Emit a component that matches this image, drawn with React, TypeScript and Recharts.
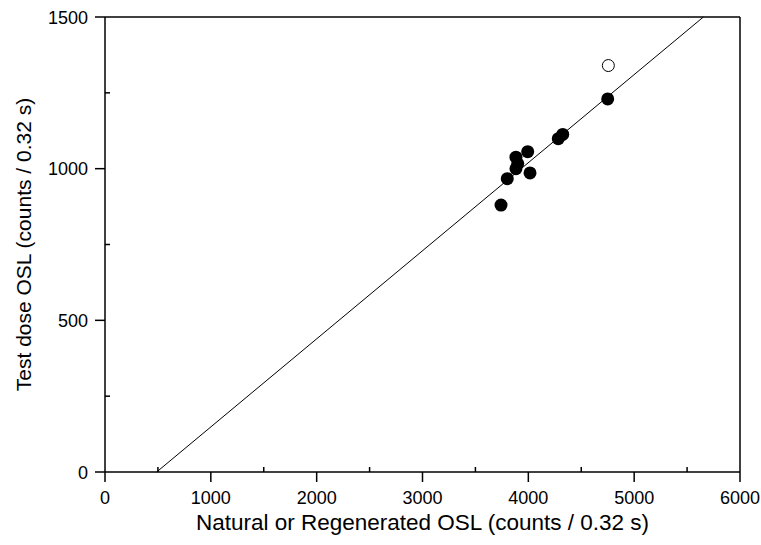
import React from 'react';
import { ScatterChart, Scatter, XAxis, YAxis, ReferenceLine } from 'recharts';

// Filled circles (natural / regenerated)
const filledX = [3742, 3801, 3883, 3900, 3883, 3994, 4016, 4283, 4325, 4750];
const filledY = [880, 967, 1038, 1017, 1000, 1056, 986, 1099, 1113, 1230];
// Open circle (recycled point)
const openX = [4756];
const openY = [1340];
// Fitted line end points
const fitX = [488, 5654];
const fitY = [0, 1500];

const xTicks = [0, 500, 1000, 1500, 2000, 2500, 3000, 3500, 4000, 4500, 5000, 5500, 6000];
const yTicks = [0, 250, 500, 750, 1000, 1250, 1500];
const xMajorStep = 1000;
const yMajorStep = 500;

const xTitle = 'Natural or Regenerated OSL (counts / 0.32 s)';
const yTitle = 'Test dose OSL (counts / 0.32 s)';

const filledData = filledX.map((x, i) => ({ x, y: filledY[i] }));
const openData = openX.map((x, i) => ({ x, y: openY[i] }));

const FONT = '"Liberation Sans", Arial, Helvetica, sans-serif';
const AX = 1.5;

const XTick = (props: any) => {
  const { x, y, payload } = props;
  const v = payload.value;
  const major = v % xMajorStep === 0;
  return (
    <g>
      {major ? (
        <line x1={x} x2={x} y1={y} y2={y + 10} stroke="#000" strokeWidth={AX} />
      ) : (
        <line x1={x} x2={x} y1={y - 5} y2={y} stroke="#000" strokeWidth={AX} />
      )}
      {major && (
        <text x={x} y={y + 31.5} textAnchor="middle" fontSize={18} fontFamily={FONT} fill="#000">
          {v}
        </text>
      )}
    </g>
  );
};

const YTick = (props: any) => {
  const { x, y, payload } = props;
  const v = payload.value;
  const major = v % yMajorStep === 0;
  return (
    <g>
      {major ? (
        <line x1={x - 10} x2={x} y1={y} y2={y} stroke="#000" strokeWidth={AX} />
      ) : (
        <line x1={x} x2={x + 5} y1={y} y2={y} stroke="#000" strokeWidth={AX} />
      )}
      {major && (
        <text x={x - 17} y={y + 6.5} textAnchor="end" fontSize={18} fontFamily={FONT} fill="#000">
          {v}
        </text>
      )}
    </g>
  );
};

const YTitle = (props: any) => {
  const vb = props.viewBox || { x: 0, y: 17, width: 105, height: 455 };
  const cx = vb.x + 23;
  const cy = vb.y + vb.height / 2;
  return (
    <text
      x={cx}
      y={cy}
      transform={`rotate(-90 ${cx} ${cy})`}
      textAnchor="middle"
      dominantBaseline="central"
      fontSize={21}
      fontFamily={FONT}
      fill="#000"
    >
      {yTitle}
    </text>
  );
};

const XTitle = (props: any) => {
  const vb = props.viewBox || { x: 105, y: 472, width: 635, height: 73 };
  const cx = vb.x + vb.width / 2;
  const cy = vb.y + 50;
  return (
    <text x={cx} y={cy} textAnchor="middle" dominantBaseline="central" fontSize={22.5} fontFamily={FONT} fill="#000">
      {xTitle}
    </text>
  );
};

const FilledDot = (p: any) => <circle cx={p.cx} cy={p.cy} r={6.5} fill="#000" />;
const OpenDot = (p: any) => <circle cx={p.cx} cy={p.cy} r={6} fill="#fff" stroke="#000" strokeWidth={1} />;

export default function App() {
  return (
    <div style={{ position: 'absolute', left: 0, top: 0, background: '#fff' }}>
      <ScatterChart width={761} height={545} margin={{ top: 17, right: 21, bottom: 0, left: 0 }}>
        <XAxis
          type="number"
          dataKey="x"
          domain={[0, 6000]}
          ticks={xTicks}
          interval={0}
          tickSize={0}
          tickMargin={0}
          tickLine={false}
          tick={<XTick />}
          axisLine={{ stroke: '#000', strokeWidth: AX }}
          height={73}
          allowDataOverflow
          label={{ content: XTitle }}
        />
        <YAxis
          type="number"
          dataKey="y"
          domain={[0, 1500]}
          ticks={yTicks}
          interval={0}
          tickSize={0}
          tickMargin={0}
          tickLine={false}
          tick={<YTick />}
          axisLine={{ stroke: '#000', strokeWidth: AX }}
          width={105}
          allowDataOverflow
          label={{ content: YTitle }}
        />
        <ReferenceLine y={1500} stroke="#000" strokeWidth={AX} ifOverflow="extendDomain" />
        <ReferenceLine x={6000} stroke="#000" strokeWidth={AX} ifOverflow="extendDomain" />
        <ReferenceLine
          segment={[
            { x: fitX[0], y: fitY[0] },
            { x: fitX[1], y: fitY[1] },
          ]}
          stroke="#000"
          strokeWidth={1}
        />
        <Scatter data={filledData} shape={<FilledDot />} isAnimationActive={false} />
        <Scatter data={openData} shape={<OpenDot />} isAnimationActive={false} />
      </ScatterChart>
    </div>
  );
}
